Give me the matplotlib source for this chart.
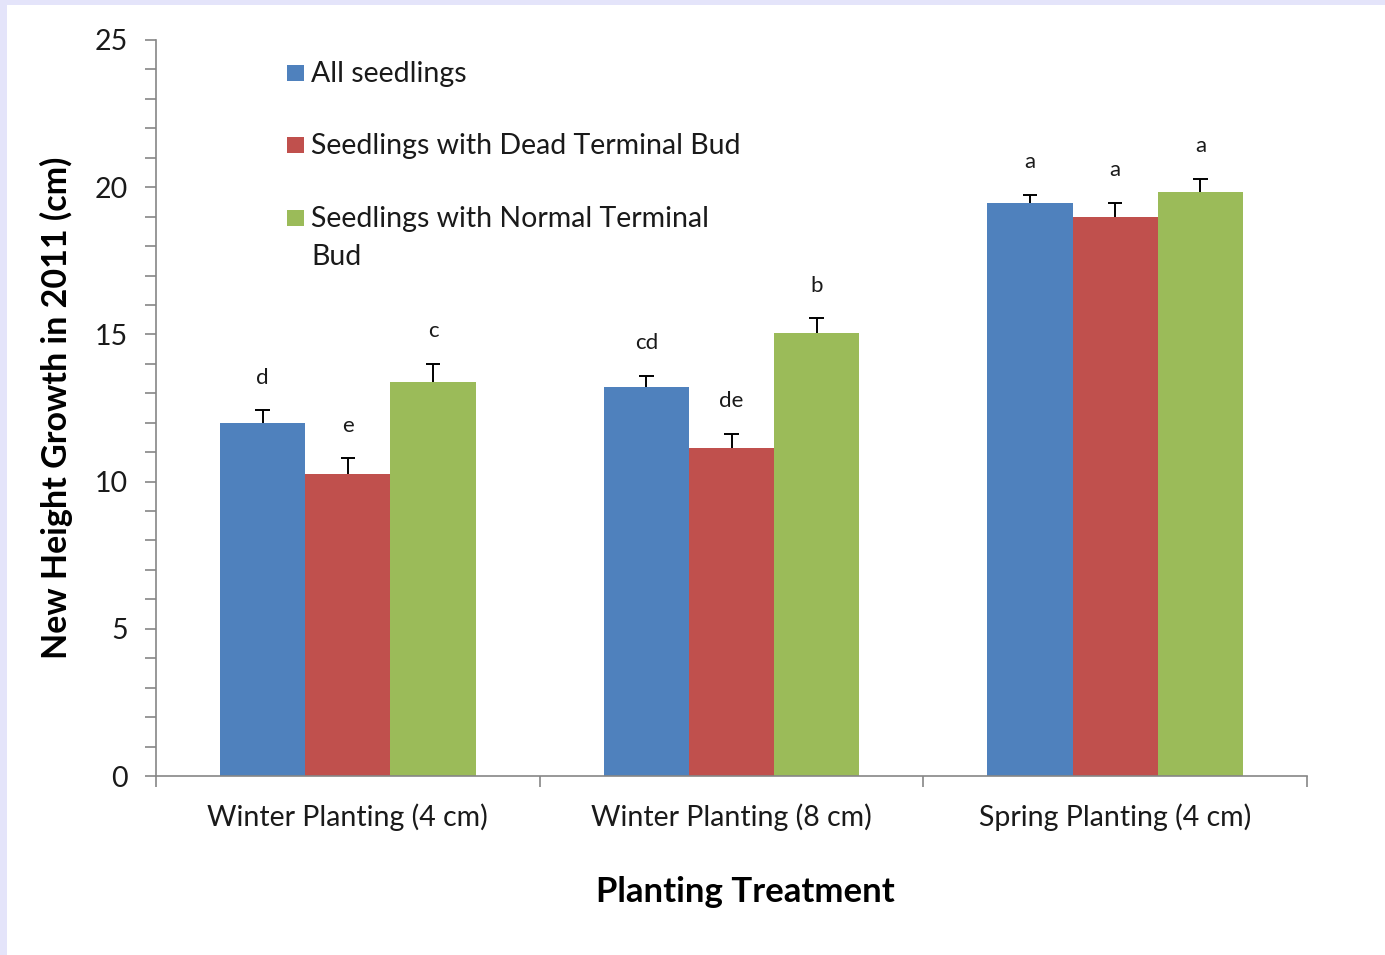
import numpy as np
import matplotlib
matplotlib.use('Agg')
import matplotlib.pyplot as plt
from matplotlib.patches import Rectangle

plt.rcParams['font.family'] = ['Lato', 'DejaVu Sans']

treatments = ['Winter Planting (4 cm)', 'Winter Planting (8 cm)', 'Spring Planting (4 cm)']
series = ['All seedlings', 'Seedlings with Dead Terminal Bud',
          'Seedlings with Normal Terminal\nBud']
colors = ['#4F81BD', '#C0504D', '#9BBB59']

all_growth = [12.0, 13.2, 19.45]
dead_growth = [10.25, 11.15, 19.0]
normal_growth = [13.4, 15.05, 19.85]

all_se = [0.43, 0.4, 0.3]
dead_se = [0.55, 0.48, 0.48]
normal_se = [0.6, 0.5, 0.44]

all_letters = ['d', 'cd', 'a']
dead_letters = ['e', 'de', 'a']
normal_letters = ['c', 'b', 'a']

values = [all_growth, dead_growth, normal_growth]
errors = [all_se, dead_se, normal_se]
letters = [all_letters, dead_letters, normal_letters]

fig = plt.figure(figsize=(13.85, 9.55), dpi=100)
# lavender frame strip along the top and left edge
fig.patches.append(Rectangle((0, 0), 1, 1, transform=fig.transFigure,
                             facecolor='#E4E4FA', edgecolor='none', zorder=-2))
fig.patches.append(Rectangle((7 / 1385, 0), 1, 1 - 5 / 955, transform=fig.transFigure,
                             facecolor='white', edgecolor='none', zorder=-1))

ax = fig.add_axes([156 / 1385, 179 / 955, 1151 / 1385, 736 / 955])
ax.set_facecolor('none')

x = np.arange(len(treatments))
w = 0.222
cap = 0.019
for i in range(3):
    pos = x + (i - 1) * w
    top = np.array(values[i]) + np.array(errors[i])
    ax.bar(pos, values[i], width=w, color=colors[i], edgecolor='none', zorder=2)
    # upper error bars only
    ax.vlines(pos, values[i], top, color='black', lw=1.4, zorder=3)
    ax.hlines(top, pos - cap, pos + cap, color='black', lw=1.4, zorder=3)
    for p, t_y, t in zip(pos, top, letters[i]):
        ax.text(p, t_y + 1.1, t, ha='center', va='center', fontsize=16, color='#1a1a1a')

ax.set_xlim(-0.5, 2.5)
ax.set_ylim(0, 25)
ax.set_yticks(range(0, 26, 5))
ax.set_yticks(range(0, 26), minor=True)
ax.set_xticks(x)
ax.set_xticklabels(treatments, fontsize=20.5, color='#1a1a1a')
ax.set_xticks([-0.5, 0.5, 1.5, 2.5], minor=True)
ax.tick_params(axis='x', which='major', length=0, pad=20)
ax.tick_params(axis='x', which='minor', length=8, color='#868686', width=1.2)
ax.tick_params(axis='y', which='both', length=8, color='#868686', width=1.2,
               labelsize=20.5, labelcolor='#1a1a1a', pad=12)

for s in ['top', 'right']:
    ax.spines[s].set_visible(False)
for s in ['left', 'bottom']:
    ax.spines[s].set_color('#868686')
    ax.spines[s].set_linewidth(1.2)

ax.set_ylabel('New Height Growth in 2011 (cm)', fontsize=24.5, fontweight='bold', labelpad=16)
ax.set_xlabel('Planting Treatment', fontsize=25, fontweight='bold')
ax.xaxis.set_label_coords((745 - 156) / 1151, -(892 - 776) / 736)
ax.xaxis.label.set_va('center')

# legend drawn by hand so the wrapped entry keeps its square on the first line
leg_y = [73, 145, 218]
for name, c, yy in zip(series, colors, leg_y):
    fig.patches.append(Rectangle((287 / 1385, 1 - (yy + 8) / 955), 17 / 1385, 16 / 955,
                                 transform=fig.transFigure, facecolor=c, edgecolor='none'))
    fig.text(311 / 1385, 1 - (yy - 12) / 955, name, fontsize=20.5, va='top', ha='left',
             color='#1a1a1a', linespacing=1.55, transform=fig.transFigure)

fig.savefig('out.png', dpi=100)
